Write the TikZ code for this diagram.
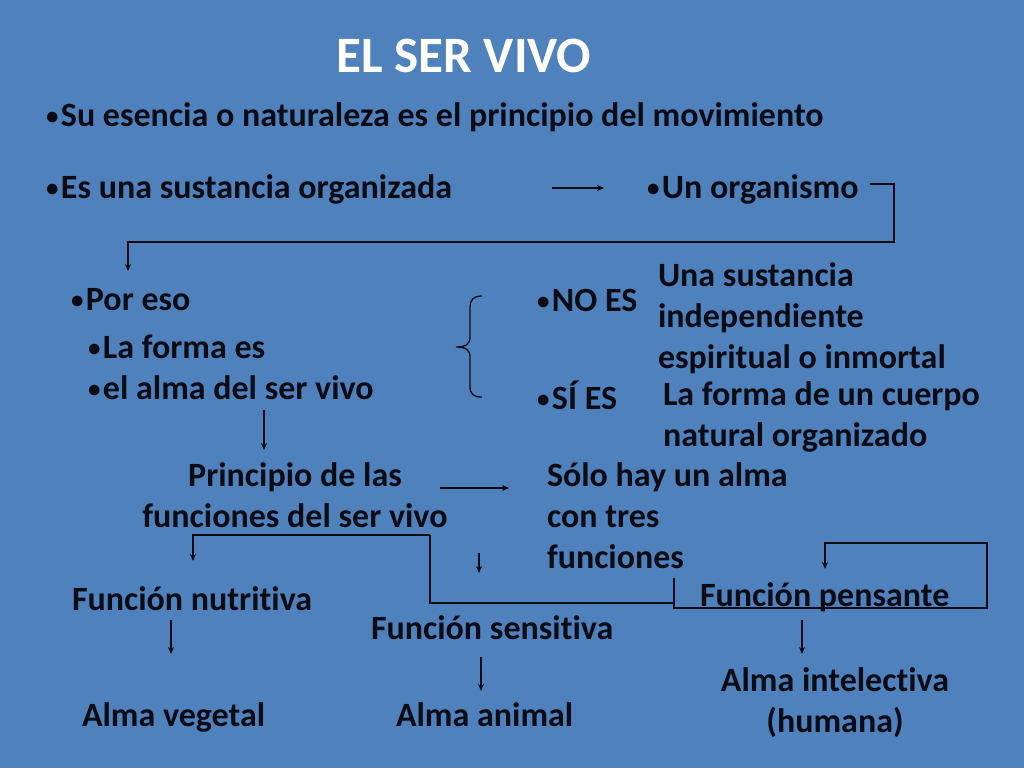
\documentclass[tikz,border=0pt]{standalone}
\usepackage{fontspec}
\setmainfont{Carlito}[Ligatures=NoCommon]
\usetikzlibrary{arrows.meta}
\definecolor{bg}{HTML}{4F81BD}
\definecolor{ink}{HTML}{0B0B14}
\newcommand\bul{{\fontsize{25}{25}\selectfont\raisebox{1.5pt}{•}}\hspace{2.5pt}}
\tikzset{
  txt/.style={inner sep=0pt, outer sep=0pt, anchor=base west, text=ink, font=\fontsize{34}{41}\selectfont\bfseries, align=left},
  ctxt/.style={txt, anchor=base, align=center},
  conn/.style={draw=ink, line width=1.4pt},
  arr/.style={conn, -{Stealth[length=7pt,width=6pt]}},
}
\begin{document}
\begin{tikzpicture}[x=1pt,y=-1pt]
\fill[bg] (0,0) rectangle (1024,768);
\useasboundingbox (0,0) rectangle (1024,768);

\node[ctxt, text=white, font=\fontsize{51}{55}\selectfont\bfseries] (title) at (464,72) {EL SER VIVO};
\node[txt] (esencia) at (46,126) {\bul Su esencia o naturaleza es el principio del movimiento};
\node[txt] (sustancia) at (46,198) {\bul Es una sustancia organizada};
\node[txt] (organismo) at (647,198) {\bul Un organismo};
\node[txt] (poreso) at (71,310) {\bul Por eso};
\node[txt] (forma) at (88,399) {\bul La forma es\\\bul el alma del ser vivo};
\node[txt] (noes) at (537,311) {\bul NO ES};
\node[txt] (una) at (658,368) {Una sustancia\\independiente\\espiritual o inmortal};
\node[txt] (sies) at (537,409) {\bul SÍ ES};
\node[txt] (cuerpo) at (663,446) {La forma de un cuerpo\\natural organizado};
\node[ctxt] (principio) at (295,527) {Principio de las\\funciones del ser vivo};
\node[txt] (solo) at (547,568) {Sólo hay un alma\\con tres\\funciones};
\node[txt] (nutritiva) at (72,610) {Función nutritiva};
\node[txt] (sensitiva) at (371,639) {Función sensitiva};
\node[txt] (pensante) at (700,606) {Función pensante};
\node[txt] (vegetal) at (82,726) {Alma vegetal};
\node[txt] (animal) at (396,726) {Alma animal};
\node[ctxt] (intelectiva) at (835,732) {Alma intelectiva\\(humana)};

% arrow organizada -> organismo
\coordinate (a1s) at (552,188); \coordinate (a1e) at (604,188);
\draw[arr] (a1s) -- (a1e);
% organismo -> por eso
\coordinate (o1) at (870,184); \coordinate (o2) at (128,271);
\draw[arr] (o1) -- (894,184) -- (894,242) -- (128,242) -- (o2);
% brace
\draw[conn, line width=1.3pt] (482,296) .. controls (473,296) and (470,300) .. (470,308) -- (470,337)
  .. controls (470,344) and (466,347) .. (456,347)
  .. controls (466,347) and (470,350) .. (470,357) -- (470,386)
  .. controls (470,394) and (473,397) .. (482,397);
% alma -> principio
\coordinate (b1) at (264,410); \coordinate (b2) at (264,450);
\draw[arr] (b1) -- (b2);
% principio -> solo
\coordinate (c1) at (440,488); \coordinate (c2) at (509,488);
\draw[arr] (c1) -- (c2);
% principio -> nutritiva / pensante
\coordinate (d0) at (430,535); \coordinate (d1) at (193,561);
\draw[arr] (d0) -- (193,535) -- (d1);
\draw[conn] (d0) -- (430,603) -- (674,603);
\coordinate (e0) at (674,578); \coordinate (e1) at (825,569);
\draw[arr] (e0) -- (674,608) -- (987,608) -- (987,543) -- (825,543) -- (e1);
% small arrow to sensitiva
\coordinate (f0) at (479,553); \coordinate (f1) at (479,573);
\draw[arr] (f0) -- (f1);
% function -> alma arrows
\coordinate (g0) at (171,620); \coordinate (g1) at (171,654);
\draw[arr] (g0) -- (g1);
\coordinate (h0) at (481,657); \coordinate (h1) at (481,691);
\draw[arr] (h0) -- (h1);
\coordinate (i0) at (802,620); \coordinate (i1) at (802,654);
\draw[arr] (i0) -- (i1);
\end{tikzpicture}
\end{document}
